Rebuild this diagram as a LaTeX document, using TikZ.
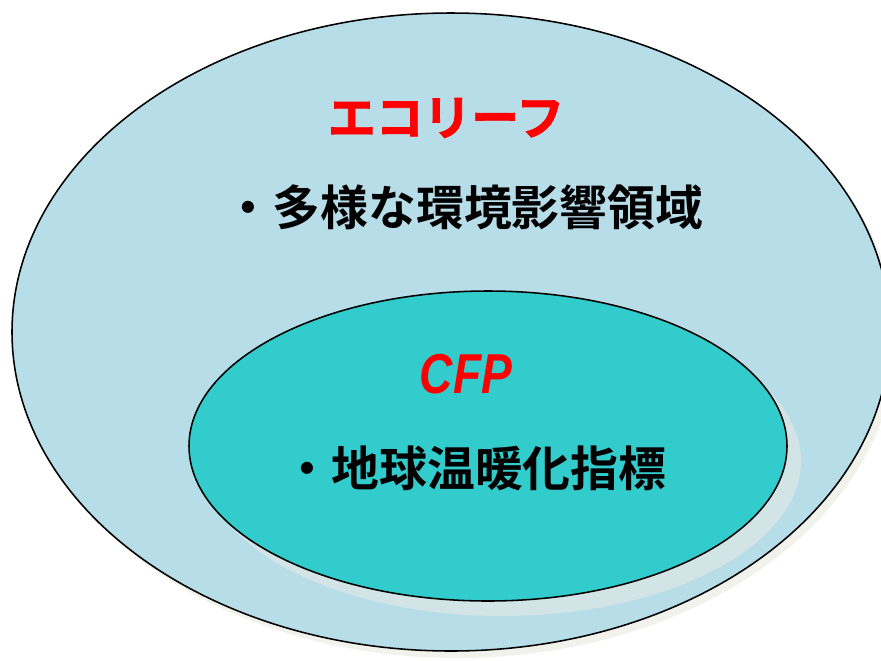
\documentclass[tikz,border=0pt]{standalone}
\usepackage{fontspec}
\usetikzlibrary{positioning}
\newfontfamily\jpfont{Noto Sans CJK JP}[BoldFont={Noto Sans CJK JP Bold}]
\newfontfamily\popfont{Noto Sans CJK JP Bold}[FakeBold=1.6]
\newfontfamily\cfpfont{Liberation Sans}[FakeStretch=0.82]
\definecolor{paleblue}{HTML}{B7DDE8}
\definecolor{teal}{HTML}{33CCCC}
\definecolor{shadeouter}{HTML}{F2F2EC}
\definecolor{shadeinner}{HTML}{D2E4E5}
\tikzset{
  region/.style={draw=black,line width=1.1pt},
  heading/.style={text=red,font=\popfont\fontsize{34}{40}\selectfont},
  item/.style={text=black,font=\jpfont\bfseries\fontsize{34}{40}\selectfont}
}

\begin{document}
\begin{tikzpicture}[x=0.025cm,y=-0.025cm]
  \useasboundingbox (0,0) rectangle (881,660);
  \clip (0,0) rectangle (881,660);
  % outer set with its shadow
  \fill[shadeouter] (457,339) ellipse [x radius=439,y radius=319];
  \fill[paleblue,region] (451,332) ellipse [x radius=439,y radius=319];
  % inner set with its shadow
  \fill[shadeinner] (502,461) ellipse [x radius=299,y radius=155];
  \fill[teal,region] (488,446) ellipse [x radius=299,y radius=155];
  % labels
  \node[heading] (ecoleaf) at (446,118) {エコリーフ};
  \node[item] (env) at (464,207) {・多様な環境影響領域};
  \node[text=red,font=\cfpfont\bfseries\itshape\fontsize{40}{46}\selectfont] (cfp) at (466,374) {CFP};
  \node[item] (gw) at (475,468) {・地球温暖化指標};
\end{tikzpicture}
\end{document}
